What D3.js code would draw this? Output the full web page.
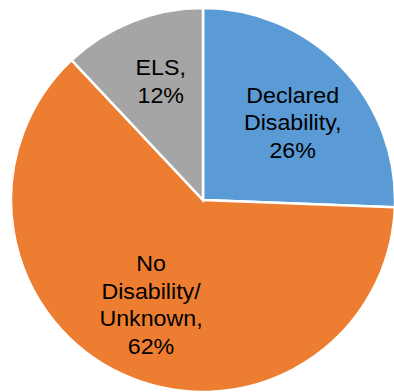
<!DOCTYPE html>
<html><head><meta charset="utf-8">
<script src="https://cdn.jsdelivr.net/npm/d3@7"></script>
<style>html,body{margin:0;padding:0;background:#fff;}</style>
</head><body>
<svg id="c" width="394" height="392"></svg>
<script>
const categories = ["Declared Disability", "No Disability/ Unknown", "ELS"];
const values = [25.6, 62.4, 12.0];
const labelLines = [["Declared", "Disability,"], ["No", "Disability/", "Unknown,"], ["ELS,"]];
const colors = ["#5B9BD5", "#ED7D31", "#A5A5A5"];
// label layout: radius from centre and angular nudge (degrees) from slice mid-angle
const labelRadius = [118.5, 117, 126];
const labelAngleNudge = [3.1, 1.9, 2.0];

const svg = d3.select("#c");
const cx = 203, cy = 200, R = 192;
const g = svg.append("g").attr("transform", `translate(${cx},${cy})`);
const data = categories.map((c, i) => ({cat: c, value: values[i], i}));
const pie = d3.pie().value(d => d.value).sort(null);
const arcs = pie(data);
const arc = d3.arc().innerRadius(0).outerRadius(R);

g.selectAll("path").data(arcs).join("path")
  .attr("d", arc)
  .attr("fill", d => colors[d.data.i])
  .attr("stroke", "#fff").attr("stroke-width", 2.5).attr("stroke-linejoin", "miter");

const total = d3.sum(values);
const fmt = v => Math.round(v / total * 100) + "%";
const lh = 27.5, fs = 21.5, sx = 1.08;
arcs.forEach(a => {
  const i = a.data.i;
  const lines = labelLines[i].concat([fmt(a.data.value)]);
  const ang = (a.startAngle + a.endAngle) / 2 + labelAngleNudge[i] * Math.PI / 180;
  const x = Math.sin(ang) * labelRadius[i], y = -Math.cos(ang) * labelRadius[i];
  const t = g.append("text")
    .attr("transform", `translate(${x},${y}) scale(${sx},1)`)
    .attr("text-anchor", "middle")
    .attr("font-family", "Liberation Sans, Arial, sans-serif")
    .attr("font-size", fs)
    .attr("fill", "#000");
  const y0 = -(lines.length - 1) * lh / 2;
  lines.forEach((l, k) => {
    t.append("tspan").attr("x", 0).attr("y", y0 + k * lh).attr("dy", "0.35em").text(l);
  });
});
</script>
</body></html>
